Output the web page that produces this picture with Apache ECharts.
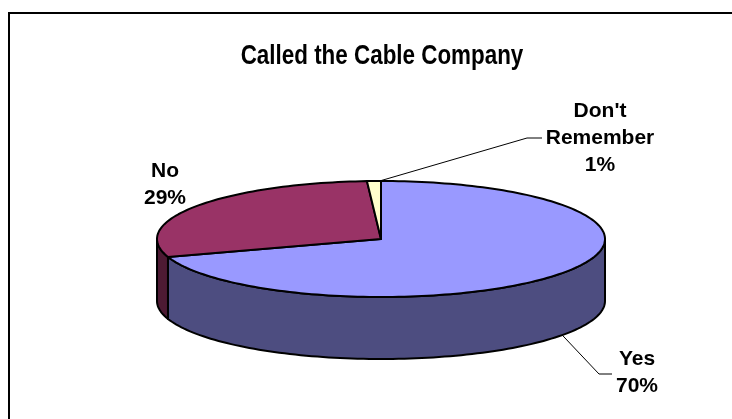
<!DOCTYPE html>
<html>
<head>
<meta charset="utf-8">
<script src="https://cdn.jsdelivr.net/npm/echarts@6.0.0/dist/echarts.min.js"></script>
<style>
  html, body { margin: 0; padding: 0; background: #fff; }
  #chart { width: 732px; height: 419px; }
</style>
</head>
<body>
<div id="chart"></div>
<script>
// Survey answers and their shares (percent)
const categories = ['Yes', 'No', "Don't Remember"];
const shares = [70, 29, 1];
const chartTitle = 'Called the Cable Company';

// Excel-style palette: top faces and darker side walls
const topColors = ['#9999FF', '#993366', '#FFFFCC'];
const sideColors = ['#4D4D80', '#4D1A33', '#80805F'];

// Ellipse geometry of the tilted pie
const CX = 381, CY = 239, RX = 224, RY = 58, DEPTH = 62;

// Label placement: text centre and leader-line elbow points (null = no leader)
const labelLayout = [
  { at: [637, 373], elbow: [[599, 374], [612, 374]] },
  { at: [165, 185], elbow: null },
  { at: [600, 138], elbow: [[527, 138], [542, 138]] }
];

const total = shares.reduce((s, v) => s + v, 0);
const cumulative = shares.map((v, i) => shares.slice(0, i).reduce((s, x) => s + x, 0));

function pt(deg, dy) {
  const r = deg * Math.PI / 180;
  return [CX + RX * Math.cos(r), CY - RY * Math.sin(r) + (dy || 0)];
}
function arc(a, b, dy) {
  const n = Math.max(2, Math.ceil(Math.abs(b - a) / 1.5));
  const out = [];
  for (let k = 0; k <= n; k++) out.push(pt(a + (b - a) * k / n, dy));
  return out;
}

function renderItem(params, api) {
  const i = params.dataIndex;
  const v = api.value(0);
  const start = 90 - 360 * cumulative[i] / total;
  const end = start - 360 * v / total;
  const children = [];
  const edge = { stroke: '#000', lineWidth: 2, lineJoin: 'round' };

  // visible side wall: parts of the slice lying on the front half of the rim
  for (let k = -2; k <= 1; k++) {
    const lo = Math.max(end, -180 + 360 * k);
    const hi = Math.min(start, 360 * k);
    if (hi > lo) {
      const pts = arc(lo, hi, 0).concat(arc(hi, lo, DEPTH));
      children.push({
        type: 'polygon', z2: 1,
        shape: { points: pts },
        style: Object.assign({ fill: sideColors[i] }, edge)
      });
    }
  }

  // top face
  children.push({
    type: 'polygon', z2: 10,
    shape: { points: [[CX, CY]].concat(arc(start, end, 0)) },
    style: Object.assign({ fill: topColors[i] }, edge)
  });

  // data label; leader starts on the rim (bottom edge for front slices)
  const lay = labelLayout[i];
  const mid = (start + end) / 2;
  const front = Math.sin(mid * Math.PI / 180) < 0;
  if (lay.elbow) {
    const anchorAngle = front ? mid : end + (start - end) * 0.1;
    children.push({
      type: 'polyline', z2: 20,
      shape: { points: [pt(anchorAngle, front ? DEPTH : 0)].concat(lay.elbow) },
      style: { stroke: '#000', lineWidth: 1, fill: null }
    });
  }
  const name = categories[i].replace(' ', '\n');
  children.push({
    type: 'text', z2: 30,
    x: lay.at[0], y: lay.at[1],
    style: {
      text: name + '\n' + v + '%',
      fontFamily: 'Liberation Sans, Arial, sans-serif',
      fontWeight: 'bold',
      fontSize: 21,
      lineHeight: 27,
      fill: '#000',
      align: 'center',
      verticalAlign: 'middle'
    }
  });

  return { type: 'group', children: children };
}

const chart = echarts.init(document.getElementById('chart'), null, { renderer: 'canvas' });
chart.setOption({
  backgroundColor: '#fff',
  animation: false,
  graphic: [
    {
      type: 'rect', silent: true, z: 0,
      shape: { x: 9, y: 13, width: 800, height: 500 },
      style: { fill: 'none', stroke: '#000', lineWidth: 2 }
    },
    {
      type: 'text', silent: true, z: 5,
      x: 382, y: 57,
      scaleX: 0.83,
      style: {
        text: chartTitle,
        fontFamily: 'Liberation Sans, Arial, sans-serif',
        fontWeight: 'bold',
        fontSize: 27,
        fill: '#000',
        align: 'center',
        verticalAlign: 'middle'
      }
    }
  ],
  series: [{
    type: 'custom',
    coordinateSystem: 'none',
    renderItem: renderItem,
    data: shares.map((v, i) => ({ name: categories[i], value: [v] }))
  }]
});
</script>
</body>
</html>
